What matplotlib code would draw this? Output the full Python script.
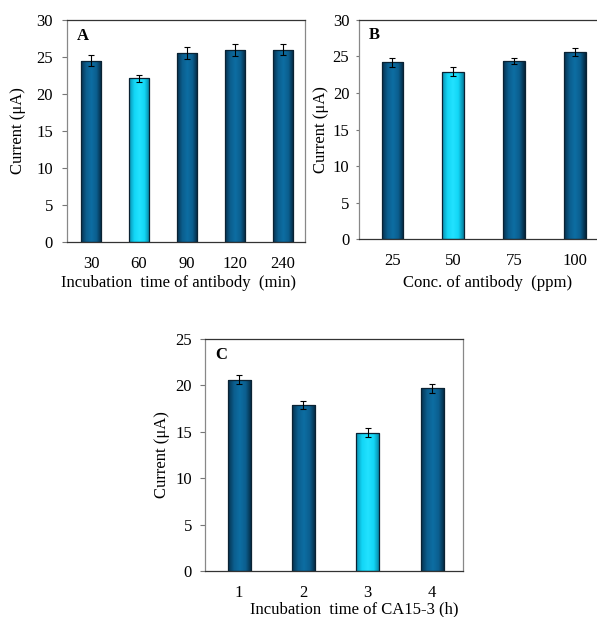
#!/usr/bin/env python3
"""Three-panel bar chart of current response under different conditions."""

import matplotlib
matplotlib.use("Agg")
import matplotlib.pyplot as plt
import numpy as np
from matplotlib.colors import LinearSegmentedColormap

# Panel A: incubation time of antibody
a_labels = ["30", "60", "90", "120", "240"]
a_values = [24.5, 22.1, 25.5, 25.9, 26.0]
a_errors = [0.75, 0.5, 0.8, 0.8, 0.7]
a_highlight = 1

# Panel B: concentration of antibody
b_labels = ["25", "50", "75", "100"]
b_values = [24.2, 22.9, 24.4, 25.6]
b_errors = [0.6, 0.6, 0.4, 0.5]
b_highlight = 1

# Panel C: incubation time of CA15-3
c_labels = ["1", "2", "3", "4"]
c_values = [20.6, 17.9, 14.9, 19.7]
c_errors = [0.5, 0.4, 0.5, 0.5]
c_highlight = 2

plt.rcParams["font.family"] = ["Liberation Serif", "DejaVu Serif"]

dark_cmap = LinearSegmentedColormap.from_list(
    "dark", ["#06324f", "#0b5e8e", "#0d6ea3", "#0b5e8e", "#04263d"])
light_cmap = LinearSegmentedColormap.from_list(
    "light", ["#0a8fb0", "#12d6f6", "#22e2ff", "#12d6f6", "#067f9e"])
grad = np.linspace(0, 1, 64).reshape(1, -1)


def draw_panel(ax, labels, values, errors, highlight, width, xlim, ymax,
               letter, xlabel, xlabel_xy, ylabel_x, ytick_len, ytick_pad):
    x = np.arange(len(labels))
    bars = ax.bar(x, values, width=width, color="none", edgecolor="#0a2233",
                  linewidth=0.9, zorder=3)
    for i, bar in enumerate(bars):
        cmap = light_cmap if i == highlight else dark_cmap
        x0 = bar.get_x()
        im = ax.imshow(grad, cmap=cmap, aspect="auto", zorder=2,
                       extent=[x0, x0 + bar.get_width(), 0, bar.get_height()])
        im.set_clip_path(bar)
    ax.errorbar(x, values, yerr=errors, fmt="none", ecolor="black",
                elinewidth=0.8, capsize=2.5, capthick=0.8, zorder=4)
    ax.set_xlim(*xlim)
    ax.set_ylim(0, ymax)
    ax.set_yticks(np.arange(0, ymax + 1, 5))
    ax.set_xticks(x)
    ax.set_xticklabels(labels)
    ax.tick_params(axis="x", length=0, pad=10, labelsize=12)
    ax.tick_params(axis="y", length=ytick_len, direction="out", labelsize=12,
                   width=0.8, color="#777777", pad=ytick_pad)
    for name, sp in ax.spines.items():
        sp.set_linewidth(0.9)
        sp.set_color("#888888" if name in ("left", "right") else "#333333")
    ax.set_ylabel("Current (\u03bcA)", fontsize=12)
    ax.yaxis.set_label_coords(ylabel_x, 0.5)
    ax.set_xlabel(xlabel, fontsize=12)
    ax.xaxis.set_label_coords(*xlabel_xy)
    ax.text(0.04, 0.93, letter, transform=ax.transAxes, fontsize=12,
            fontweight="bold", va="center", ha="left")


fig = plt.figure(figsize=(5.97, 6.17), dpi=100)
ax_a = fig.add_axes([0.1122, 0.6078, 0.3987, 0.3598])
ax_b = fig.add_axes([0.6019, 0.6126, 0.412, 0.355])
ax_c = fig.add_axes([0.3434, 0.0746, 0.4322, 0.376])

draw_panel(ax_a, a_labels, a_values, a_errors, a_highlight, 0.42,
           (-0.5, 4.46), 30, "A", "Incubation  time of antibody  (min)",
           (0.47, -0.15), -0.172, 3.6, 6.5)
draw_panel(ax_b, b_labels, b_values, b_errors, b_highlight, 0.35,
           (-0.54, 3.5), 30, "B", "Conc. of antibody  (ppm)",
           (0.52, -0.165), -0.122, 2.2, 5.0)
draw_panel(ax_c, c_labels, c_values, c_errors, c_highlight, 0.36,
           (-0.53, 3.48), 25, "C", "Incubation  time of CA15-3 (h)",
           (0.578, -0.13), -0.135, 3.6, 5.8)

fig.savefig("out.png", dpi=100)
plt.close(fig)
